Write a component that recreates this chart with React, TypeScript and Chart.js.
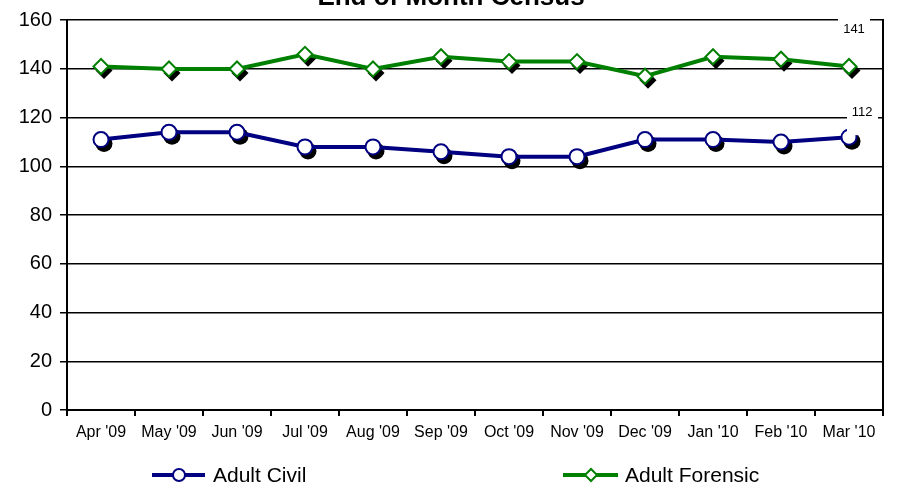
import { useEffect, useRef } from 'react';
import { Chart, registerables } from 'chart.js';

Chart.register(...registerables);

const months = ["Apr '09", "May '09", "Jun '09", "Jul '09", "Aug '09", "Sep '09", "Oct '09", "Nov '09", "Dec '09", "Jan '10", "Feb '10", "Mar '10"];
const adultCivil = [111, 114, 114, 108, 108, 106, 104, 104, 111, 111, 110, 112];
const adultForensic = [141, 140, 140, 146, 140, 145, 143, 143, 137, 145, 144, 141];
const seriesNames = ['Adult Civil', 'Adult Forensic'];
const yMin = 0;
const yMax = 160;
const yStep = 20;

const FONT = "'Liberation Sans', Arial, Helvetica, sans-serif";
const NAVY = '#000080';
const GREEN = '#008000';

function markerPath(ctx: CanvasRenderingContext2D, style: string, x: number, y: number, r: number) {
  ctx.beginPath();
  if (style === 'rectRot') {
    ctx.moveTo(x - r, y);
    ctx.lineTo(x, y - r);
    ctx.lineTo(x + r, y);
    ctx.lineTo(x, y + r);
    ctx.closePath();
  } else {
    ctx.arc(x, y, r, 0, Math.PI * 2);
  }
}

const shadowPlugin = {
  id: 'markerShadow',
  beforeDatasetsDraw(chart: any) {
    const ctx = chart.ctx as CanvasRenderingContext2D;
    ctx.save();
    ctx.fillStyle = '#000';
    chart.data.datasets.forEach((ds: any, i: number) => {
      const meta = chart.getDatasetMeta(i);
      meta.data.forEach((pt: any) => {
        const r = ds.pointRadius + ds.pointBorderWidth / 2;
        markerPath(ctx, ds.pointStyle, pt.x + 3, pt.y + 4, r);
        ctx.fill();
      });
    });
    ctx.restore();
  },
};

const lastLabelPlugin = {
  id: 'lastLabel',
  afterDatasetsDraw(chart: any, _args: any, opts: any) {
    const ctx = chart.ctx as CanvasRenderingContext2D;
    const boxes = opts.boxes || [];
    ctx.save();
    chart.data.datasets.forEach((ds: any, i: number) => {
      const meta = chart.getDatasetMeta(i);
      const last = meta.data.length - 1;
      const pt = meta.data[last];
      const b = boxes[i];
      if (!pt || !b) return;
      ctx.fillStyle = '#fff';
      ctx.fillRect(pt.x + b.bx0, pt.y + b.by0, b.bx1 - b.bx0, b.by1 - b.by0);
      ctx.fillStyle = '#000';
      ctx.font = `13px ${FONT}`;
      ctx.textAlign = 'center';
      ctx.textBaseline = 'middle';
      ctx.fillText(String(ds.data[last]), pt.x + b.dx, pt.y + b.dy);
    });
    ctx.restore();
  },
};

const frameLegendPlugin = {
  id: 'frameLegend',
  afterDraw(chart: any, _args: any, opts: any) {
    const ctx = chart.ctx as CanvasRenderingContext2D;
    const items = opts.items || [];
    const y = chart.chartArea.bottom + opts.offsetY;
    ctx.save();
    chart.data.datasets.forEach((ds: any, i: number) => {
      const it = items[i];
      if (!it) return;
      ctx.strokeStyle = ds.borderColor;
      ctx.lineWidth = 4;
      ctx.beginPath();
      ctx.moveTo(it.x0, y);
      ctx.lineTo(it.x1, y);
      ctx.stroke();
      markerPath(ctx, ds.pointStyle, it.mx, y, 6);
      ctx.fillStyle = '#fff';
      ctx.fill();
      ctx.lineWidth = 2;
      ctx.strokeStyle = ds.pointBorderColor;
      ctx.stroke();
      ctx.fillStyle = '#000';
      ctx.font = `21px ${FONT}`;
      ctx.textAlign = 'left';
      ctx.textBaseline = 'middle';
      ctx.fillText(ds.label, it.tx, y + 1);
    });
    ctx.restore();
  },
};

export default function App() {
  const canvasRef = useRef<HTMLCanvasElement | null>(null);

  useEffect(() => {
    if (!canvasRef.current) return;
    const chart = new Chart(canvasRef.current, {
      type: 'line',
      data: {
        labels: months,
        datasets: [
          {
            label: seriesNames[0],
            data: adultCivil,
            borderColor: NAVY,
            borderWidth: 4,
            pointStyle: 'circle',
            pointRadius: 7.5,
            pointBorderWidth: 2,
            pointBackgroundColor: '#fff',
            pointBorderColor: NAVY,
            tension: 0,
          },
          {
            label: seriesNames[1],
            data: adultForensic,
            borderColor: GREEN,
            borderWidth: 4,
            pointStyle: 'rectRot',
            pointRadius: 7.5,
            pointBorderWidth: 2,
            pointBackgroundColor: '#fff',
            pointBorderColor: GREEN,
            tension: 0,
          },
        ],
      } as any,
      options: {
        animation: false,
        responsive: true,
        maintainAspectRatio: false,
        layout: { padding: { left: 0, right: 0, top: 0, bottom: 36 } },
        scales: {
          x: {
            offset: true,
            grid: {
              offset: true,
              drawOnChartArea: false,
              drawTicks: true,
              tickLength: 6,
              color: '#000',
              lineWidth: 2,
            },
            border: { display: true, color: '#000', width: 2 },
            ticks: {
              color: '#000',
              font: { family: FONT, size: 16 },
              padding: 7,
              maxRotation: 0,
              autoSkip: false,
            },
            afterFit: (s: any) => { s.height = 40; },
          },
          y: {
            min: yMin,
            max: yMax,
            ticks: {
              stepSize: yStep,
              color: '#000',
              font: { family: FONT, size: 20 },
              padding: 8,
            },
            grid: { color: '#000', lineWidth: 1.5, tickLength: 7 },
            border: { display: true, color: '#000', width: 2 },
            afterFit: (s: any) => { s.width = 67; },
          },
          yR: {
            position: 'right',
            min: yMin,
            max: yMax,
            ticks: { display: false },
            grid: { display: false, drawTicks: false },
            border: { display: true, color: '#000', width: 2 },
            afterFit: (s: any) => { s.width = 19; },
          },
        },
        plugins: {
          legend: { display: false },
          tooltip: { enabled: false },
          title: {
            display: true,
            text: 'End of Month Census',
            color: '#000',
            font: { family: FONT, size: 26, weight: 'bold' },
            padding: { top: 0, bottom: 7 },
          },
          lastLabel: {
            boxes: [
              { dx: 13, dy: -25, bx0: -2, bx1: 29, by0: -38, by1: -2 },
              { dx: 5, dy: -37, bx0: -11, bx1: 21, by0: -51, by1: -23 },
            ],
          },
          frameLegend: {
            offsetY: 65,
            items: [
              { x0: 152, x1: 205, mx: 179, tx: 213 },
              { x0: 563, x1: 618, mx: 591, tx: 625 },
            ],
          },
        } as any,
      },
      plugins: [shadowPlugin, lastLabelPlugin, frameLegendPlugin],
    });
    return () => chart.destroy();
  }, []);

  return (
    <div style={{ position: 'absolute', left: 0, top: -18, width: 902, height: 504 }}>
      <canvas ref={canvasRef} />
    </div>
  );
}
